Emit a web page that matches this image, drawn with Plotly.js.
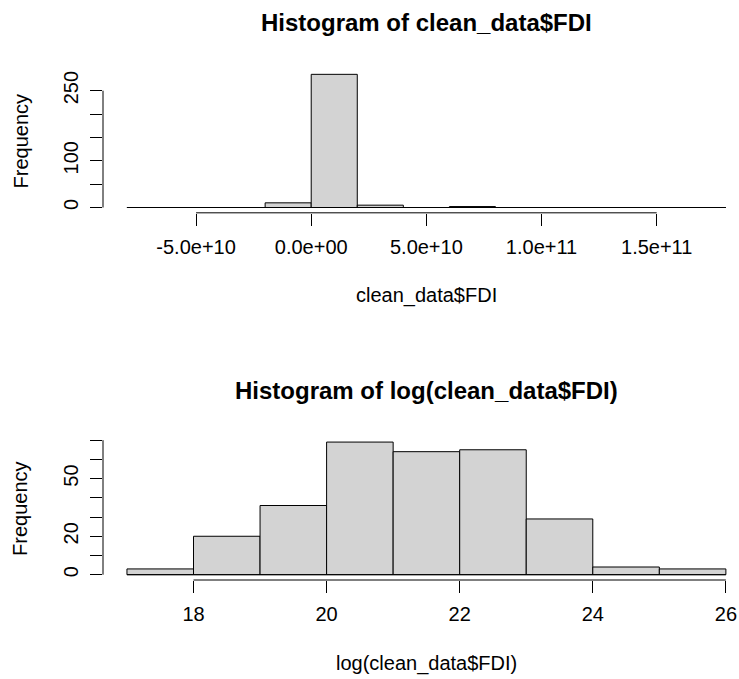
<!DOCTYPE html>
<html>
<head>
<meta charset="utf-8">
<script src="https://cdn.plot.ly/plotly-3.0.1.min.js"></script>
<style>html,body{margin:0;padding:0;background:#fff;}#chart{width:739px;height:679px;}</style>
</head>
<body>
<div id="chart"></div>
<script>
// ---- data ----
const fdiBreaks = [-8e10, -6e10, -4e10, -2e10, 0, 2e10, 4e10, 6e10, 8e10, 1e11, 1.2e11, 1.4e11, 1.6e11, 1.8e11];
const fdiCounts = [0, 0, 0, 10, 285, 5, 0, 2, 0, 0, 0, 0, 0];
const fdiTickVals = [-5e10, 0, 5e10, 1e11, 1.5e11];
const fdiTickText = ["-5.0e+10", "0.0e+00", "5.0e+10", "1.0e+11", "1.5e+11"];
const fdiYTickVals = [0, 50, 100, 150, 200, 250];
const fdiYTickText = ["0", "", "100", "", "", "250"];

const logBreaks = [17, 18, 19, 20, 21, 22, 23, 24, 25, 26];
const logCounts = [3, 20, 36, 69, 64, 65, 29, 4, 3];
const logTickVals = [18, 20, 22, 24, 26];
const logTickText = ["18", "20", "22", "24", "26"];
const logYTickVals = [0, 10, 20, 30, 40, 50, 60, 70];
const logYTickText = ["0", "", "20", "", "", "50", "", ""];

const titleTop = "Histogram of clean_data$FDI";
const titleBottom = "Histogram of log(clean_data$FDI)";
const xlabTop = "clean_data$FDI";
const xlabBottom = "log(clean_data$FDI)";
const ylab = "Frequency";

// ---- geometry ----
const W = 739, H = 679;
const ml = 102.5, mr = 0, mt = 69.4, mb = 99.4;
const px = v => (v - ml) / (W - ml - mr);
const py = v => (H - mb - v) / (H - mt - mb);

function centers(b){ const c=[]; for(let i=0;i<b.length-1;i++) c.push((b[i]+b[i+1])/2); return c; }
function widths(b){ const w=[]; for(let i=0;i<b.length-1;i++) w.push(b[i+1]-b[i]); return w; }

const FONT = "Liberation Sans, Arial, Helvetica, sans-serif";
const barStyle = {color: "#D3D3D3", line: {color: "#000", width: 1}};

const traces = [
  {type: "bar", x: centers(fdiBreaks), y: fdiCounts, width: widths(fdiBreaks),
   marker: barStyle, xaxis: "x", yaxis: "y", hoverinfo: "skip"},
  {type: "scatter", mode: "lines", x: [fdiBreaks[0], fdiBreaks[fdiBreaks.length-1]], y: [0, 0],
   line: {color: "#000", width: 1}, xaxis: "x", yaxis: "y", hoverinfo: "skip"},
  {type: "bar", x: centers(logBreaks), y: logCounts, width: widths(logBreaks),
   marker: barStyle, xaxis: "x2", yaxis: "y2", hoverinfo: "skip"},
  {type: "scatter", mode: "lines", x: [logBreaks[0], logBreaks[logBreaks.length-1]], y: [0, 0],
   line: {color: "#000", width: 1}, xaxis: "x2", yaxis: "y2", hoverinfo: "skip"}
];

const axCommon = {showgrid: false, zeroline: false, showline: false, ticks: "outside",
  ticklen: 12, tickwidth: 1, tickcolor: "#000", tickfont: {family: FONT, size: 20, color: "#000"},
  fixedrange: true};

// fdi x scale: 0 at 311 px, 2.305 px per 1e9
const fdiLeft = -9.04e10;
const fdiRight = fdiLeft + (W - ml) / 2.305e-9;
// log x scale: 18 at 193 px, 66.6 px per unit
const logLeft = 16.64;
const logRight = logLeft + (W - ml) / 66.6;

const layout = {
  width: W, height: H,
  margin: {l: ml, r: mr, t: mt, b: mb, pad: 0},
  paper_bgcolor: "#fff", plot_bgcolor: "#fff",
  showlegend: false, bargap: 0,
  font: {family: FONT, color: "#000"},
  xaxis: Object.assign({}, axCommon, {anchor: "y", domain: [0, 1], range: [fdiLeft, fdiRight],
    tickmode: "array", tickvals: fdiTickVals, ticktext: fdiTickText, ticklabelstandoff: 4}),
  yaxis: Object.assign({}, axCommon, {anchor: "x", domain: [py(213.0), 1], range: [-11.4, 296.4],
    tickmode: "array", tickvals: fdiYTickVals, ticktext: fdiYTickText, tickangle: -90, ticklabelstandoff: 4}),
  xaxis2: Object.assign({}, axCommon, {anchor: "y2", domain: [0, 1], range: [logLeft, logRight],
    tickmode: "array", tickvals: logTickVals, ticktext: logTickText, ticklabelstandoff: 4}),
  yaxis2: Object.assign({}, axCommon, {anchor: "x2", domain: [0, py(436.6)], range: [-2.76, 71.76],
    tickmode: "array", tickvals: logYTickVals, ticktext: logYTickText, tickangle: -90, ticklabelstandoff: 4}),
  shapes: [
    {type: "line", xref: "x", yref: "y domain", x0: fdiTickVals[0], x1: fdiTickVals[fdiTickVals.length-1], y0: 0, y1: 0, line: {color: "#000", width: 1}},
    {type: "line", xref: "x domain", yref: "y", x0: 0, x1: 0, y0: fdiYTickVals[0], y1: fdiYTickVals[fdiYTickVals.length-1], line: {color: "#000", width: 1}},
    {type: "line", xref: "x2", yref: "y2 domain", x0: logTickVals[0], x1: logTickVals[logTickVals.length-1], y0: 0, y1: 0, line: {color: "#000", width: 1}},
    {type: "line", xref: "x2 domain", yref: "y2", x0: 0, x1: 0, y0: logYTickVals[0], y1: logYTickVals[logYTickVals.length-1], line: {color: "#000", width: 1}}
  ],
  annotations: [
    {text: "<b>" + titleTop + "</b>", xref: "paper", yref: "paper", x: px(426), y: py(23), xanchor: "center", yanchor: "middle", showarrow: false, font: {family: FONT, size: 24, color: "#000"}},
    {text: xlabTop, xref: "paper", yref: "paper", x: px(426), y: py(296), xanchor: "center", yanchor: "middle", showarrow: false, font: {family: FONT, size: 20, color: "#000"}},
    {text: ylab, xref: "paper", yref: "paper", x: px(20), y: py(141.2), xanchor: "center", yanchor: "middle", textangle: -90, showarrow: false, font: {family: FONT, size: 20, color: "#000"}},
    {text: "<b>" + titleBottom + "</b>", xref: "paper", yref: "paper", x: px(426), y: py(390), xanchor: "center", yanchor: "middle", showarrow: false, font: {family: FONT, size: 24, color: "#000"}},
    {text: xlabBottom, xref: "paper", yref: "paper", x: px(426), y: py(663), xanchor: "center", yanchor: "middle", showarrow: false, font: {family: FONT, size: 20, color: "#000"}},
    {text: ylab, xref: "paper", yref: "paper", x: px(20), y: py(508.1), xanchor: "center", yanchor: "middle", textangle: -90, showarrow: false, font: {family: FONT, size: 20, color: "#000"}}
  ]
};

Plotly.newPlot("chart", traces, layout, {staticPlot: true, displayModeBar: false});
</script>
</body>
</html>
